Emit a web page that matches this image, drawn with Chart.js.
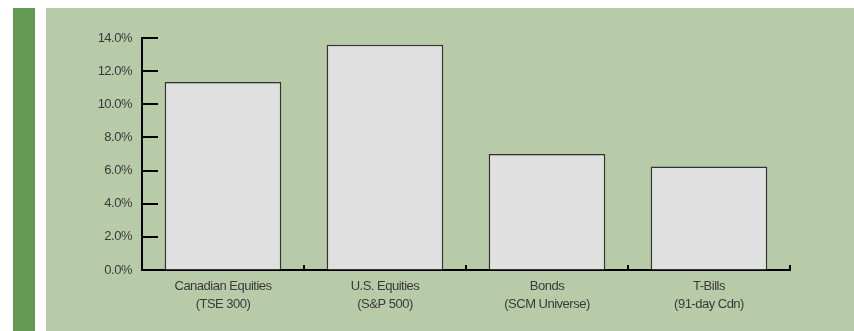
<!DOCTYPE html>
<html>
<head>
<meta charset="utf-8">
<script src="https://cdn.jsdelivr.net/npm/chart.js@4"></script>
<style>
  body { margin: 0; background: #fff; }
  #stripe { position: absolute; left: 13px; top: 8px; width: 22px; height: 323px; background: #659a52; }
  #panel { position: absolute; left: 46px; top: 8px; right: 0; bottom: 0; background: #b7cba9; }
  #wrap { position: absolute; left: 0; top: 0; width: 854px; height: 331px; }
</style>
</head>
<body>
<div id="stripe"></div>
<div id="panel"></div>
<div id="wrap"><canvas id="myChart" width="854" height="331"></canvas></div>
<script>
var categories = [
  ['Canadian Equities', '(TSE 300)'],
  ['U.S. Equities', '(S&P 500)'],
  ['Bonds', '(SCM Universe)'],
  ['T-Bills', '(91-day Cdn)']
];
var returns = [11.35, 13.6, 7.0, 6.25];

var fontFamily = "'Liberation Sans Narrow', 'Arial Narrow', 'Liberation Sans', sans-serif";

// the original uses a narrow face; tighten the spacing to get close
var narrowText = {
  id: 'narrowText',
  beforeLayout: function(chart) { chart.ctx.letterSpacing = '-0.5px'; },
  beforeDraw: function(chart) { chart.ctx.letterSpacing = '-0.5px'; }
};

// short tick marks: inward on the y axis, upward at category edges on the x axis
var tickMarks = {
  id: 'tickMarks',
  afterDraw: function(chart) {
    var c = chart.ctx;
    var x = chart.scales.x, y = chart.scales.y;
    c.save();
    c.strokeStyle = '#000';
    c.lineWidth = 2;
    c.beginPath();
    y.ticks.forEach(function(t, i) {
      var py = Math.round(y.getPixelForTick(i));
      c.moveTo(x.left, py);
      c.lineTo(x.left + 16, py);
    });
    var half = (x.getPixelForValue(1) - x.getPixelForValue(0)) / 2;
    for (var i = 0; i < categories.length; i++) {
      var px = Math.round(x.getPixelForValue(i) + half);
      c.moveTo(px, y.bottom);
      c.lineTo(px, y.bottom - 5);
    }
    c.stroke();
    c.restore();
  }
};

var ctx = document.getElementById('myChart').getContext('2d');
var myChart = new Chart(ctx, {
  type: 'bar',
  data: {
    labels: categories,
    datasets: [{
      data: returns,
      backgroundColor: '#e0e0e0',
      borderColor: '#333',
      borderWidth: 1.5,
      categoryPercentage: 1,
      barPercentage: 0.72
    }]
  },
  options: {
    responsive: false,
    animation: false,
    layout: { padding: { left: 0, top: 38, right: 64, bottom: 0 } },
    plugins: {
      legend: { display: false },
      tooltip: { enabled: false }
    },
    scales: {
      x: {
        afterFit: function(s) { s.height = 61; },
        grid: { display: true, drawOnChartArea: false, drawTicks: false },
        border: { color: '#000', width: 2 },
        ticks: {
          color: '#3a3a3a',
          padding: 7,
          maxRotation: 0,
          font: { family: fontFamily, size: 13, lineHeight: 1.43 }
        }
      },
      y: {
        min: 0,
        max: 14,
        afterFit: function(s) { s.width = 142; },
        grid: { display: true, drawOnChartArea: false, drawTicks: false },
        border: { color: '#000', width: 2 },
        ticks: {
          stepSize: 2,
          color: '#3a3a3a',
          padding: 10,
          font: { family: fontFamily, size: 13 },
          callback: function(v) { return v.toFixed(1) + '%'; }
        }
      }
    }
  },
  plugins: [narrowText, tickMarks]
});
</script>
</body>
</html>
